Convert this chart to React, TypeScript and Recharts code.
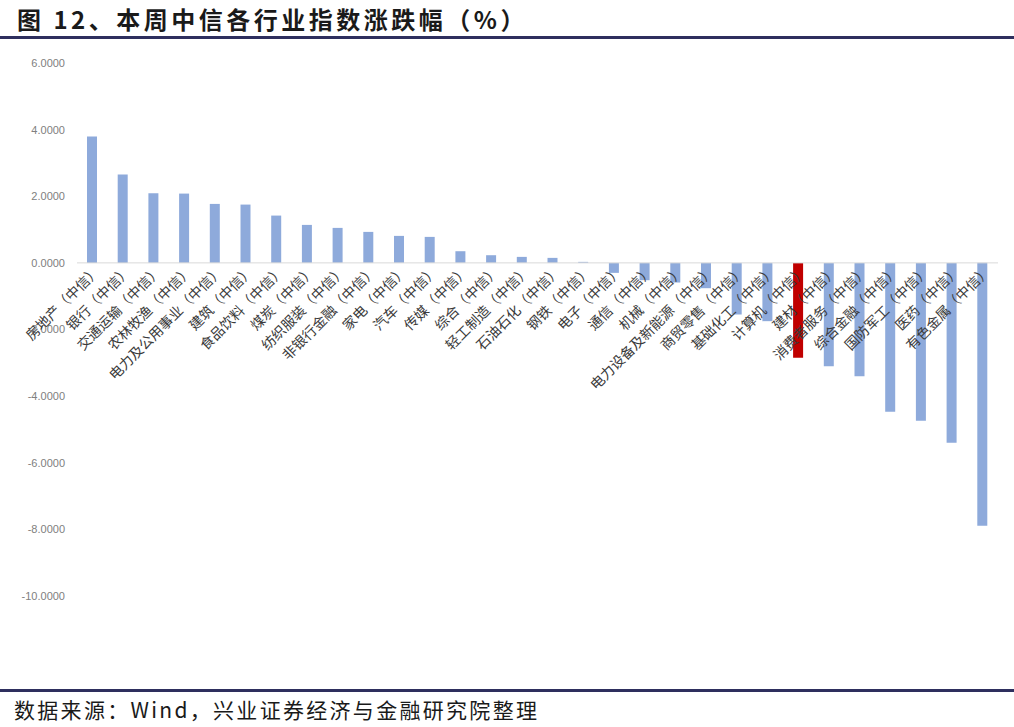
import React from 'react';
import { BarChart, Bar, XAxis, YAxis, Cell, LabelList, ReferenceLine } from 'recharts';

const categories = [
    '房地产（中信）', '银行（中信）', '交通运输（中信）', '农林牧渔（中信）', '电力及公用事业（中信）',
    '建筑（中信）', '食品饮料（中信）', '煤炭（中信）', '纺织服装（中信）', '非银行金融（中信）',
    '家电（中信）', '汽车（中信）', '传媒（中信）', '综合（中信）', '轻工制造（中信）',
    '石油石化（中信）', '钢铁（中信）', '电子（中信）', '通信（中信）', '机械（中信）',
    '电力设备及新能源（中信）', '商贸零售（中信）', '基础化工（中信）', '计算机（中信）', '建材（中信）',
    '消费者服务（中信）', '综合金融（中信）', '国防军工（中信）', '医药（中信）', '有色金属（中信）',
];

const weeklyChange = [
    3.79, 2.65, 2.09, 2.08, 1.77,
    1.75, 1.42, 1.14, 1.05, 0.93,
    0.81, 0.78, 0.35, 0.23, 0.18,
    0.15, 0.03, -0.30, -0.52, -0.59,
    -0.76, -1.55, -1.75, -2.85, -3.10,
    -3.40, -4.47, -4.74, -5.40, -7.89,
];

const highlighted = '计算机（中信）';

const yTicks = [-10, -8, -6, -4, -2, 0, 2, 4, 6];

const data = categories.map((name, i) => ({ name, value: weeklyChange[i] }));

const BAR_BLUE = '#8eaadb';
const BAR_RED = '#c00000';
const NAVY = '#2e2f5e';

// category names sit just under the zero line, rotated like the excel original
const CategoryLabel = (props: any) => {
    const { x, y, width, height, value, index } = props;
    const v = weeklyChange[index];
    const zeroY = v >= 0 ? Math.max(y, y + height) : Math.min(y, y + height);
    const ax = x + width / 2 + 9;
    const ay = zeroY + 9;
    return (
        <text
            x={ax}
            y={ay}
            transform={`rotate(-45 ${ax} ${ay})`}
            textAnchor="end"
            fontSize={14}
            fill="#3a3a3a"
            fontFamily="'Noto Sans CJK SC', sans-serif"
        >
            {value}
        </text>
    );
};

const App: React.FC = () => {
    return (
        <div style={{ position: 'absolute', left: 0, top: 0, width: 1014, height: 727, background: '#fff' }}>
            <div
                style={{
                    position: 'absolute',
                    left: 17,
                    top: 4,
                    fontSize: 24,
                    fontWeight: 700,
                    letterSpacing: 3.5,
                    color: '#1a1a1a',
                    fontFamily: "'Noto Sans CJK SC', sans-serif",
                    whiteSpace: 'nowrap',
                    lineHeight: '30px',
                }}
            >
                图 12、本周中信各行业指数涨跌幅（%）
            </div>
            <div style={{ position: 'absolute', left: 0, top: 36, width: 1014, height: 3, background: NAVY }} />

            <div style={{ position: 'absolute', left: 0, top: 0 }}>
                <BarChart width={1014} height={727} data={data} margin={{ top: 63, right: 16, bottom: 131, left: 0 }}>
                    <XAxis dataKey="name" hide />
                    <YAxis
                        width={77}
                        domain={[-10, 6]}
                        ticks={yTicks}
                        interval={0}
                        axisLine={false}
                        tickLine={false}
                        tickSize={0}
                        tickMargin={12}
                        tickFormatter={(v: number) => v.toFixed(4)}
                        tick={{ fill: '#808080', fontSize: 11, fontFamily: "'Liberation Sans', Arial, sans-serif" }}
                    />
                    <ReferenceLine y={0} stroke="#d9d9d9" strokeWidth={1} />
                    <Bar dataKey="value" barSize={10} isAnimationActive={false}>
                        {data.map((d) => (
                            <Cell key={d.name} fill={d.name === highlighted ? BAR_RED : BAR_BLUE} />
                        ))}
                        <LabelList dataKey="name" content={CategoryLabel} />
                    </Bar>
                </BarChart>
            </div>

            <div style={{ position: 'absolute', left: 0, top: 689, width: 1014, height: 3, background: NAVY }} />
            <div
                style={{
                    position: 'absolute',
                    left: 14,
                    top: 695,
                    fontSize: 21,
                    letterSpacing: 2.3,
                    color: '#1a1a1a',
                    fontFamily: "'Noto Sans CJK SC', sans-serif",
                    whiteSpace: 'nowrap',
                    lineHeight: '28px',
                }}
            >
                数据来源：Wind，兴业证券经济与金融研究院整理
            </div>
        </div>
    );
};

export default App;
